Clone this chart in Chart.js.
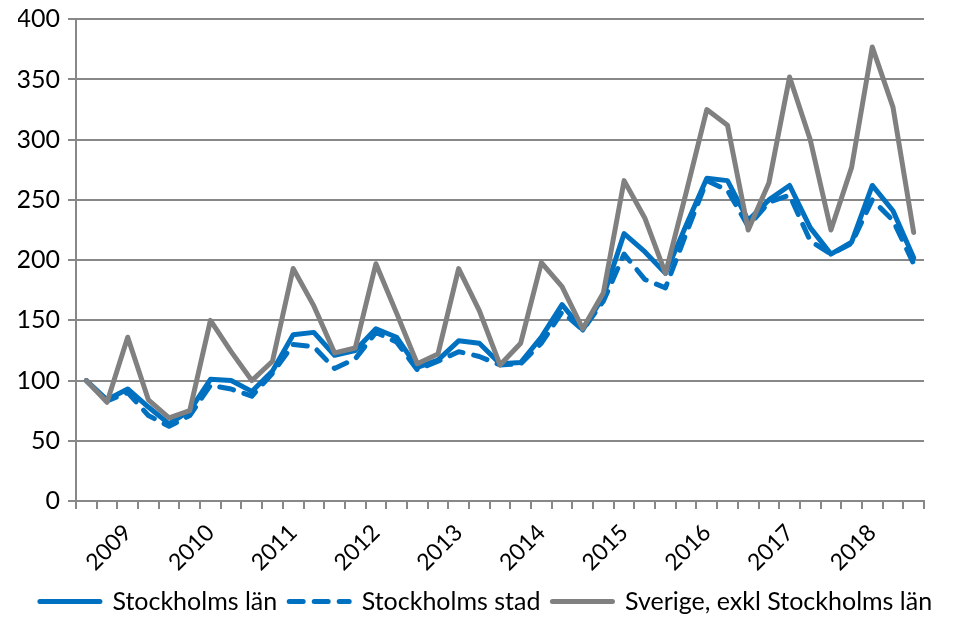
<!DOCTYPE html>
<html>
<head>
<meta charset="utf-8">
<script src="https://cdn.jsdelivr.net/npm/chart.js@4.4.0/dist/chart.umd.min.js"></script>
<style>
  html, body { margin: 0; padding: 0; background: #fff; }
</style>
</head>
<body>
<canvas id="chart" width="954" height="621"></canvas>
<script>
// kvartal 2008K3 - 2018K3, årtal visas vid första kvartalet
const labels = ['', '', '2009', '', '', '', '2010', '', '', '', '2011', '', '', '', '2012', '', '', '',
  '2013', '', '', '', '2014', '', '', '', '2015', '', '', '', '2016', '', '', '', '2017', '', '', '',
  '2018', '', ''];

const stockholmsLan = [100, 84, 93, 78, 64, 75, 101, 100, 91, 108, 138, 140, 121, 125, 143, 136, 111, 117,
  133, 131, 114, 115, 136, 163, 142, 170, 222, 207, 189, 229, 268, 266, 233, 250, 262, 227, 205, 215,
  262, 241, 202];

const stockholmsStad = [100, 83, 90, 71, 62, 71, 96, 93, 87, 106, 130, 128, 110, 118, 140, 132, 109, 116,
  124, 120, 113, 114, 131, 157, 142, 166, 205, 184, 177, 222, 266, 258, 228, 248, 254, 216, 205, 214,
  250, 233, 197];

const sverige = [100, 82, 136, 84, 69, 75, 150, 124, 100, 116, 193, 162, 123, 127, 197, 156, 114, 122,
  193, 158, 113, 131, 198, 178, 143, 173, 266, 235, 189, 256, 325, 312, 225, 264, 352, 300, 225, 277,
  377, 327, 223];

const yTicks = [0, 50, 100, 150, 200, 250, 300, 350, 400];

const blue = '#0070C0';
const gray = '#808080';
const axisGray = '#888888';
const font = { family: 'Lato', size: 25 };
const yFont = { family: 'Lato', size: 25, lineHeight: 0.9 };
const xFont = { family: 'Lato', size: 23 };

const ctx = document.getElementById('chart').getContext('2d');
new Chart(ctx, {
    type: 'line',
    data: {
        labels: labels,
        datasets: [{
            label: 'Stockholms län',
            data: stockholmsLan,
            borderColor: blue,
            backgroundColor: blue,
            borderWidth: 5,
            borderCapStyle: 'round',
            borderJoinStyle: 'round',
            pointRadius: 0,
            tension: 0,
            order: 3
        }, {
            label: 'Stockholms stad',
            data: stockholmsStad,
            borderColor: blue,
            backgroundColor: blue,
            borderWidth: 5,
            borderDash: [14, 11],
            borderCapStyle: 'round',
            borderJoinStyle: 'round',
            pointRadius: 0,
            tension: 0,
            order: 2
        }, {
            label: 'Sverige, exkl Stockholms län',
            data: sverige,
            borderColor: gray,
            backgroundColor: gray,
            borderWidth: 5,
            borderCapStyle: 'round',
            borderJoinStyle: 'round',
            pointRadius: 0,
            tension: 0,
            order: 1
        }]
    },
    options: {
        responsive: false,
        animation: false,
        layout: { padding: { top: 19, right: 0, left: 18, bottom: 0 } },
        plugins: {
            tooltip: { enabled: false },
            legend: {
                position: 'bottom',
                maxHeight: 44,
                labels: {
                    usePointStyle: true,
                    pointStyle: 'line',
                    pointStyleWidth: 60,
                    padding: 12,
                    color: '#000',
                    font: font,
                    sort: (a, b) => a.datasetIndex - b.datasetIndex,
                    // linjestil i förklaringen hämtas från dataserien
                    generateLabels: chart => Chart.defaults.plugins.legend.labels.generateLabels(chart).map(item => {
                        const ds = chart.data.datasets[item.datasetIndex];
                        item.lineDash = ds.borderDash || [];
                        item.lineWidth = ds.borderWidth;
                        item.lineCap = ds.borderCapStyle;
                        item.strokeStyle = ds.borderColor;
                        item.fillStyle = ds.borderColor;
                        return item;
                    })
                }
            }
        },
        scales: {
            x: {
                offset: true,
                grid: { offset: true, drawOnChartArea: false, drawTicks: true, tickLength: 8, color: axisGray, lineWidth: 2 },
                border: { color: axisGray, width: 2 },
                ticks: { autoSkip: false, minRotation: 45, maxRotation: 45, color: '#000', font: xFont, padding: 10 },
                afterFit: s => { s.height = 76; }
            },
            y: {
                min: 0,
                max: 400,
                afterBuildTicks: s => { s.ticks = yTicks.map(v => ({ value: v })); },
                grid: { color: axisGray, lineWidth: 2, tickLength: 8 },
                border: { color: axisGray, width: 2 },
                ticks: { color: '#000', font: yFont, padding: 8 },
                afterFit: s => { s.width = 58; }
            },
            // tom axel till höger som ger luft efter diagramytan
            yRight: {
                position: 'right',
                grid: { display: false },
                border: { display: false },
                ticks: { display: false },
                afterFit: s => { s.width = 30; }
            }
        }
    }
});
</script>
</body>
</html>
